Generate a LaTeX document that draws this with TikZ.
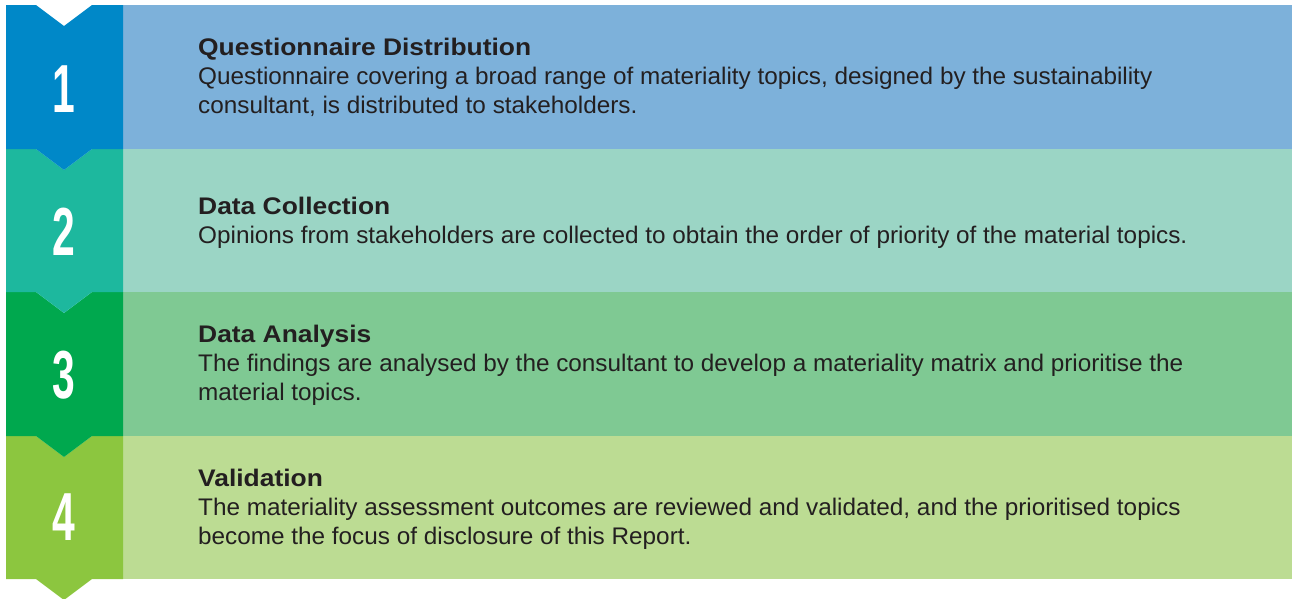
\documentclass[tikz,border=0pt]{standalone}
\usepackage{fontspec}
\setmainfont{Liberation Sans}
\newfontfamily\headfont[FakeStretch=1.10]{Liberation Sans}
\newfontfamily\bodyfont[FakeStretch=1.013]{Liberation Sans}
\usepackage{graphicx}
\definecolor{c1d}{HTML}{0088C8}
\definecolor{c1l}{HTML}{7DB1DA}
\definecolor{c2d}{HTML}{1DB89E}
\definecolor{c2l}{HTML}{9BD5C5}
\definecolor{c3d}{HTML}{00A84E}
\definecolor{c3l}{HTML}{7FC993}
\definecolor{c4d}{HTML}{8CC63F}
\definecolor{c4l}{HTML}{BCDC93}
\definecolor{txt}{HTML}{231F20}
\tikzset{
  numtxt/.style={text=white, inner sep=0pt, font=\fontsize{68}{68}\selectfont\bfseries},
  head/.style={anchor=base west, inner sep=0pt, text=txt, font=\headfont\fontsize{24}{24}\selectfont\bfseries},
  body/.style={anchor=base west, inner sep=0pt, text=txt, align=left, font=\bodyfont\fontsize{24}{29}\selectfont},
}
\newcommand{\stepdigit}[1]{\scalebox{0.6}[1]{#1}}
\begin{document}
\begin{tikzpicture}[x=1pt,y=-1pt]
\useasboundingbox (0,0) rectangle (1292,598);
% right panels
\fill[c1l] (123,5) rectangle (1292,149);
\fill[c2l] (123,149) rectangle (1292,292);
\fill[c3l] (123,292) rectangle (1292,436);
\fill[c4l] (123,436) rectangle (1292,579);
% left tabs, drawn bottom-up so each arrow overlaps the next notch
\foreach \t/\b/\c in {436/579/c4d,292/436/c3d,149/292/c2d,5/149/c1d}{
  \fill[\c] (6,\t) -- (36,\t) -- (64,\t+21) -- (92,\t) -- (123,\t) -- (123,\b) -- (92,\b) -- (64,\b+21) -- (36,\b) -- (6,\b) -- cycle;
}
% numbers
\node[numtxt] (n1) at (64,89) {\stepdigit{1}};
\node[numtxt] (n2) at (64,231.5) {\stepdigit{2}};
\node[numtxt] (n3) at (64,375) {\stepdigit{3}};
\node[numtxt] (n4) at (64,517) {\stepdigit{4}};
% texts (multi-line body nodes are placed at the baseline of their last line)
\node[head] (h1) at (198,55) {Questionnaire Distribution};
\node[body] (b1) at (198,113) {Questionnaire covering a broad range of materiality topics, designed by the sustainability\\consultant, is distributed to stakeholders.};
\node[head] (h2) at (198,214) {Data Collection};
\node[body] (b2) at (198,243) {Opinions from stakeholders are collected to obtain the order of priority of the material topics.};
\node[head] (h3) at (198,342) {Data Analysis};
\node[body] (b3) at (198,400) {The findings are analysed by the consultant to develop a materiality matrix and prioritise the\\material topics.};
\node[head] (h4) at (198,486) {Validation};
\node[body] (b4) at (198,544) {The materiality assessment outcomes are reviewed and validated, and the prioritised topics\\become the focus of disclosure of this Report.};
\end{tikzpicture}
\end{document}
